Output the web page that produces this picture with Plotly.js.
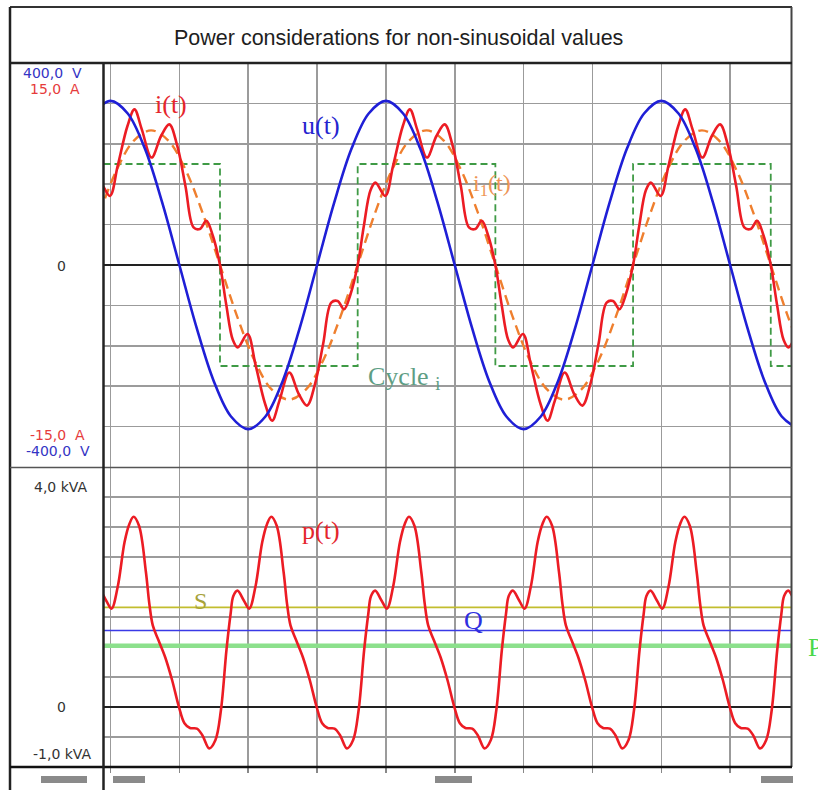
<!DOCTYPE html>
<html>
<head>
<meta charset="utf-8">
<script src="https://cdn.plot.ly/plotly-3.0.1.min.js"></script>
<style>html,body{margin:0;padding:0;background:#fff;}#chart{width:818px;height:790px;}</style>
</head>
<body>
<div id="chart"></div>
<script>
// ---- data (time in ms, 5 ms per grid division) ----
const chartTitle = "Power considerations for non-sinusoidal values";

// voltage u(t) [V]
const t_u = [-1.25, 0, 1.25, 2.5, 3.75, 5, 6.25, 7.5, 8.75, 10, 11.25, 12.5, 13.75, 15, 16.25, 17.5, 18.75, 20, 21.25, 22.5, 23.75, 25, 26.25, 27.5, 28.75, 30, 31.25, 32.5, 33.75, 35, 36.25, 37.5, 38.75, 40, 41.25, 42.5, 43.75, 45, 46.25, 47.5, 48.75, 50];
const u_V = [300, 325, 300, 230, 124, 0, -124, -230, -300, -325, -300, -230, -124, 0, 124, 230, 300, 325, 300, 230, 124, 0, -124, -230, -300, -325, -300, -230, -124, 0, 124, 230, 300, 325, 300, 230, 124, 0, -124, -230, -300, -325];

// current i(t) [A]
const t_i = [-3.04, -2.57,
  -2.05, -1.60, -1.12, -0.76, -0.05, 0.52, 1.23, 1.74, 2.27, 2.98, 3.67, 4.27, 4.85, 5.44, 6.03, 6.49, 6.96, 7.43,
  7.95, 8.40, 8.88, 9.24, 9.95, 10.52, 11.23, 11.74, 12.27, 12.98, 13.67, 14.27, 14.85, 15.44, 16.03, 16.49, 16.96, 17.43,
  17.95, 18.40, 18.88, 19.24, 19.95, 20.52, 21.23, 21.74, 22.27, 22.98, 23.67, 24.27, 24.85, 25.44, 26.03, 26.49, 26.96, 27.43,
  27.95, 28.40, 28.88, 29.24, 29.95, 30.52, 31.23, 31.74, 32.27, 32.98, 33.67, 34.27, 34.85, 35.44, 36.03, 36.49, 36.96, 37.43,
  37.95, 38.40, 38.88, 39.24, 39.95, 40.52, 41.23, 41.74, 42.27, 42.98, 43.67, 44.27, 44.85, 45.44, 46.03, 46.49, 46.96, 47.43,
  47.95, 48.40, 48.88, 49.24, 49.95, 50.52];
const i_A = [-3.28, -2.17,
  0, 2.91, 5.55, 6.12, 5.13, 7.36, 10.32, 11.56, 10.07, 7.98, 9.58, 10.44, 8.84, 5.87, 2.79, 2.67, 3.28, 2.17,
  0, -2.91, -5.55, -6.12, -5.13, -7.36, -10.32, -11.56, -10.07, -7.98, -9.58, -10.44, -8.84, -5.87, -2.79, -2.67, -3.28, -2.17,
  0, 2.91, 5.55, 6.12, 5.13, 7.36, 10.32, 11.56, 10.07, 7.98, 9.58, 10.44, 8.84, 5.87, 2.79, 2.67, 3.28, 2.17,
  0, -2.91, -5.55, -6.12, -5.13, -7.36, -10.32, -11.56, -10.07, -7.98, -9.58, -10.44, -8.84, -5.87, -2.79, -2.67, -3.28, -2.17,
  0, 2.91, 5.55, 6.12, 5.13, 7.36, 10.32, 11.56, 10.07, 7.98, 9.58, 10.44, 8.84, 5.87, 2.79, 2.67, 3.28, 2.17,
  0, -2.91, -5.55, -6.12, -5.13, -7.36];

// fundamental current i1(t) [A]
const t_i1 = [-0.80, 0.45, 1.70, 2.95, 4.20, 5.45, 6.70, 7.95, 9.20, 10.45, 11.70, 12.95, 14.20, 15.45, 16.70, 17.95, 19.20, 20.45, 21.70, 22.95, 24.20, 25.45, 26.70, 27.95, 29.20, 30.45, 31.70, 32.95, 34.20, 35.45, 36.70, 37.95, 39.20, 40.45, 41.70, 42.95, 44.20, 45.45, 46.70, 47.95, 49.20, 50.45];
const i1_A = [3.83, 7.07, 9.24, 10, 9.24, 7.07, 3.83, 0, -3.83, -7.07, -9.24, -10, -9.24, -7.07, -3.83, 0, 3.83, 7.07, 9.24, 10, 9.24, 7.07, 3.83, 0, -3.83, -7.07, -9.24, -10, -9.24, -7.07, -3.83, 0, 3.83, 7.07, 9.24, 10, 9.24, 7.07, 3.83, 0, -3.83, -7.07];

// cycle (square wave) [A]
const t_cyc = [-0.51, 7.95, 17.95, 27.95, 37.95, 47.95, 49.42];
const cyc_A = [7.5, -7.5, 7.5, -7.5, 7.5, -7.5, -7.5];

// instantaneous power p(t) [kVA]
const t_p = [-1.28, -1.08, -0.78, -0.33, 0.07, 0.52, 1.02, 1.37,
  1.67, 2.07, 2.57, 2.82, 3.07, 3.47, 3.97, 4.47, 4.97, 5.37, 5.77, 6.27, 6.67, 7.17, 7.62, 8.02, 8.42, 8.72, 8.92, 9.22, 9.67, 10.07, 10.52, 11.02, 11.37,
  11.67, 12.07, 12.57, 12.82, 13.07, 13.47, 13.97, 14.47, 14.97, 15.37, 15.77, 16.27, 16.67, 17.17, 17.62, 18.02, 18.42, 18.72, 18.92, 19.22, 19.67, 20.07, 20.52, 21.02, 21.37,
  21.67, 22.07, 22.57, 22.82, 23.07, 23.47, 23.97, 24.47, 24.97, 25.37, 25.77, 26.27, 26.67, 27.17, 27.62, 28.02, 28.42, 28.72, 28.92, 29.22, 29.67, 30.07, 30.52, 31.02, 31.37,
  31.67, 32.07, 32.57, 32.82, 33.07, 33.47, 33.97, 34.47, 34.97, 35.37, 35.77, 36.27, 36.67, 37.17, 37.62, 38.02, 38.42, 38.72, 38.92, 39.22, 39.67, 40.07, 40.52, 41.02, 41.37,
  41.67, 42.07, 42.57, 42.82, 43.07, 43.47, 43.97, 44.47, 44.97, 45.37, 45.77, 46.27, 46.67, 47.17, 47.62, 48.02, 48.42, 48.72, 48.92, 49.22, 49.67, 50.07];
const p_kVA = [1.55, 1.85, 1.94, 1.78, 1.64, 2.00, 2.75, 3.05,
  3.17, 3.02, 2.25, 1.72, 1.36, 1.12, 0.83, 0.45, 0.00, -0.27, -0.35, -0.36, -0.47, -0.69, -0.55, -0.05, 0.95, 1.55, 1.85, 1.94, 1.78, 1.64, 2.00, 2.75, 3.05,
  3.17, 3.02, 2.25, 1.72, 1.36, 1.12, 0.83, 0.45, 0.00, -0.27, -0.35, -0.36, -0.47, -0.69, -0.55, -0.05, 0.95, 1.55, 1.85, 1.94, 1.78, 1.64, 2.00, 2.75, 3.05,
  3.17, 3.02, 2.25, 1.72, 1.36, 1.12, 0.83, 0.45, 0.00, -0.27, -0.35, -0.36, -0.47, -0.69, -0.55, -0.05, 0.95, 1.55, 1.85, 1.94, 1.78, 1.64, 2.00, 2.75, 3.05,
  3.17, 3.02, 2.25, 1.72, 1.36, 1.12, 0.83, 0.45, 0.00, -0.27, -0.35, -0.36, -0.47, -0.69, -0.55, -0.05, 0.95, 1.55, 1.85, 1.94, 1.78, 1.64, 2.00, 2.75, 3.05,
  3.17, 3.02, 2.25, 1.72, 1.36, 1.12, 0.83, 0.45, 0.00, -0.27, -0.35, -0.36, -0.47, -0.69, -0.55, -0.05, 0.95, 1.55, 1.85, 1.94, 1.78, 1.64];

// mean power quantities [kVA / kvar / kW]
const S_kVA = 1.66;
const Q_kvar = 1.275;
const P_kW = 1.02;

// axis ranges / scale labels
const t_range = [-0.51, 49.42];
const i_range = [-15, 15];
const u_range = [-400, 400];
const p_range = [-1, 4];
const topLabels = ["400,0\u00a0\u00a0V", "15,0\u00a0\u00a0A", "0", "-15,0\u00a0\u00a0A", "-400,0\u00a0\u00a0V"];
const bottomLabels = ["4,0 kVA", "0", "-1,0 kVA"];

// ---- layout helpers (pixel -> paper) ----
const W = 818, H = 790;
const px = x => x / W;
const py = y => 1 - y / H;

const xDom = [px(103.5), px(791)];
const yTop = [py(467), py(63)];
const yBot = [py(767), py(467)];

const gridC = '#9b9b9b';

const traces = [
  {x: t_cyc, y: cyc_A, xaxis: 'x', yaxis: 'y', mode: 'lines', line: {shape: 'hv', color: '#3f9a45', width: 1.8, dash: '7px,4px'}},
  {x: t_i1, y: i1_A, xaxis: 'x', yaxis: 'y', mode: 'lines', line: {shape: 'spline', color: '#ef7f2e', width: 2.4, dash: '10px,6px'}},
  {x: t_u, y: u_V, xaxis: 'x', yaxis: 'y2', mode: 'lines', line: {shape: 'spline', color: '#1f1fd6', width: 2.6}},
  {x: t_i, y: i_A, xaxis: 'x', yaxis: 'y', mode: 'lines', line: {shape: 'spline', color: '#ec1c24', width: 2.6}},
  {x: t_range, y: [S_kVA, S_kVA], xaxis: 'x2', yaxis: 'y3', mode: 'lines', line: {color: '#c2bd2e', width: 1.6}},
  {x: t_range, y: [Q_kvar, Q_kvar], xaxis: 'x2', yaxis: 'y3', mode: 'lines', line: {color: '#3a3ae6', width: 1.6}},
  {x: t_range, y: [P_kW, P_kW], xaxis: 'x2', yaxis: 'y3', mode: 'lines', line: {color: '#8ce08c', width: 4.5}},
  {x: t_p, y: p_kVA, xaxis: 'x2', yaxis: 'y3', mode: 'lines', line: {shape: 'spline', color: '#ec1c24', width: 2.6}}
];

function ann(text, x, y, color, size, family, xanchor) {
  return {text: text, x: px(x), y: py(y), xref: 'paper', yref: 'paper', showarrow: false,
    xanchor: xanchor || 'center', yanchor: 'middle', font: {color: color, size: size, family: family}};
}
const sans = 'DejaVu Sans, Verdana, sans-serif';
const serif = 'Liberation Serif, Times New Roman, serif';

const annotations = [
  ann(chartTitle, 398, 38, '#1e1e1e', 21.5, 'Liberation Sans, Arial, sans-serif'),
  ann(topLabels[0], 53, 73, '#3434c4', 14, sans),
  ann(topLabels[1], 55, 88.5, '#e63b3b', 14, sans),
  ann(topLabels[2], 61, 266, '#333', 14, sans),
  ann(topLabels[3], 57.5, 435, '#e63b3b', 14, sans),
  ann(topLabels[4], 57.5, 451, '#3434c4', 14, sans),
  ann(bottomLabels[0], 61, 487, '#333', 14, sans),
  ann(bottomLabels[1], 61, 707, '#333', 14, sans),
  ann(bottomLabels[2], 63, 754, '#333', 14, sans),
  ann('i(t)', 171, 104, '#e5262c', 26, serif),
  ann('u(t)', 321, 126, '#2525cf', 26, serif),
  ann('i<sub>1</sub>(t)', 492, 185, '#ee9556', 24, serif),
  ann('Cycle <sub>i</sub>', 366, 378, '#5e9e84', 26, serif, 'left'),
  ann('p(t)', 321, 530, '#e5262c', 26, serif),
  ann('S', 200, 601, '#a7a239', 24, serif),
  ann('Q', 474, 620, '#2f2fe0', 26, serif),
  ann('P', 806, 647, '#4ad84a', 26, serif, 'left')
];

function line(x0, y0, x1, y1, color, width) {
  return {type: 'line', xref: 'paper', yref: 'paper', x0: px(x0), y0: py(y0), x1: px(x1), y1: py(y1),
    line: {color: color, width: width}, layer: 'above'};
}
function bar(x0, x1) {
  return {type: 'rect', xref: 'paper', yref: 'paper', x0: px(x0), y0: py(776), x1: px(x1), y1: py(783),
    line: {width: 0}, fillcolor: '#8a8a8a', layer: 'above'};
}
const shapes = [
  line(10, 7, 792, 7, '#333', 2),
  line(10, 7, 10, 790, '#222', 2.5),
  line(791.5, 7, 791.5, 767, '#444', 2),
  line(10, 63, 792, 63, '#222', 2.5),
  line(10, 467.5, 792, 467.5, '#555', 1.6),
  line(10, 767, 792, 767, '#111', 2.5),
  line(103.5, 63, 103.5, 790, '#222', 2.5),
  bar(41, 87), bar(113, 145), bar(435, 472), bar(761, 793)
];

const layout = {
  width: W, height: H,
  margin: {l: 0, r: 0, t: 0, b: 0},
  paper_bgcolor: '#ffffff', plot_bgcolor: '#ffffff',
  showlegend: false,
  xaxis: {domain: xDom, anchor: 'y', range: t_range, tick0: 0, dtick: 5, showticklabels: false, ticks: '',
    showgrid: true, gridcolor: gridC, gridwidth: 1.5, zeroline: false, showline: false},
  yaxis: {domain: yTop, anchor: 'x', range: i_range, tick0: 0, dtick: 3, showticklabels: false, ticks: '',
    showgrid: true, gridcolor: gridC, gridwidth: 1.5, zeroline: true, zerolinecolor: '#222', zerolinewidth: 1.6, showline: false},
  yaxis2: {overlaying: 'y', anchor: 'x', range: u_range, showgrid: false, showticklabels: false, ticks: '', zeroline: false, showline: false},
  xaxis2: {domain: xDom, anchor: 'y3', range: t_range, tick0: 0, dtick: 5, showticklabels: false, ticks: 'outside', ticklen: 5,
    tickcolor: '#888', tickwidth: 1.5, showgrid: true, gridcolor: gridC, gridwidth: 1.5, zeroline: false, showline: false},
  yaxis3: {domain: yBot, anchor: 'x2', range: p_range, tick0: 0, dtick: 0.5, showticklabels: false, ticks: '',
    showgrid: true, gridcolor: gridC, gridwidth: 1.5, zeroline: true, zerolinecolor: '#222', zerolinewidth: 1.6, showline: false},
  annotations: annotations,
  shapes: shapes
};

Plotly.newPlot('chart', traces, layout, {staticPlot: true, displayModeBar: false});
</script>
</body>
</html>
